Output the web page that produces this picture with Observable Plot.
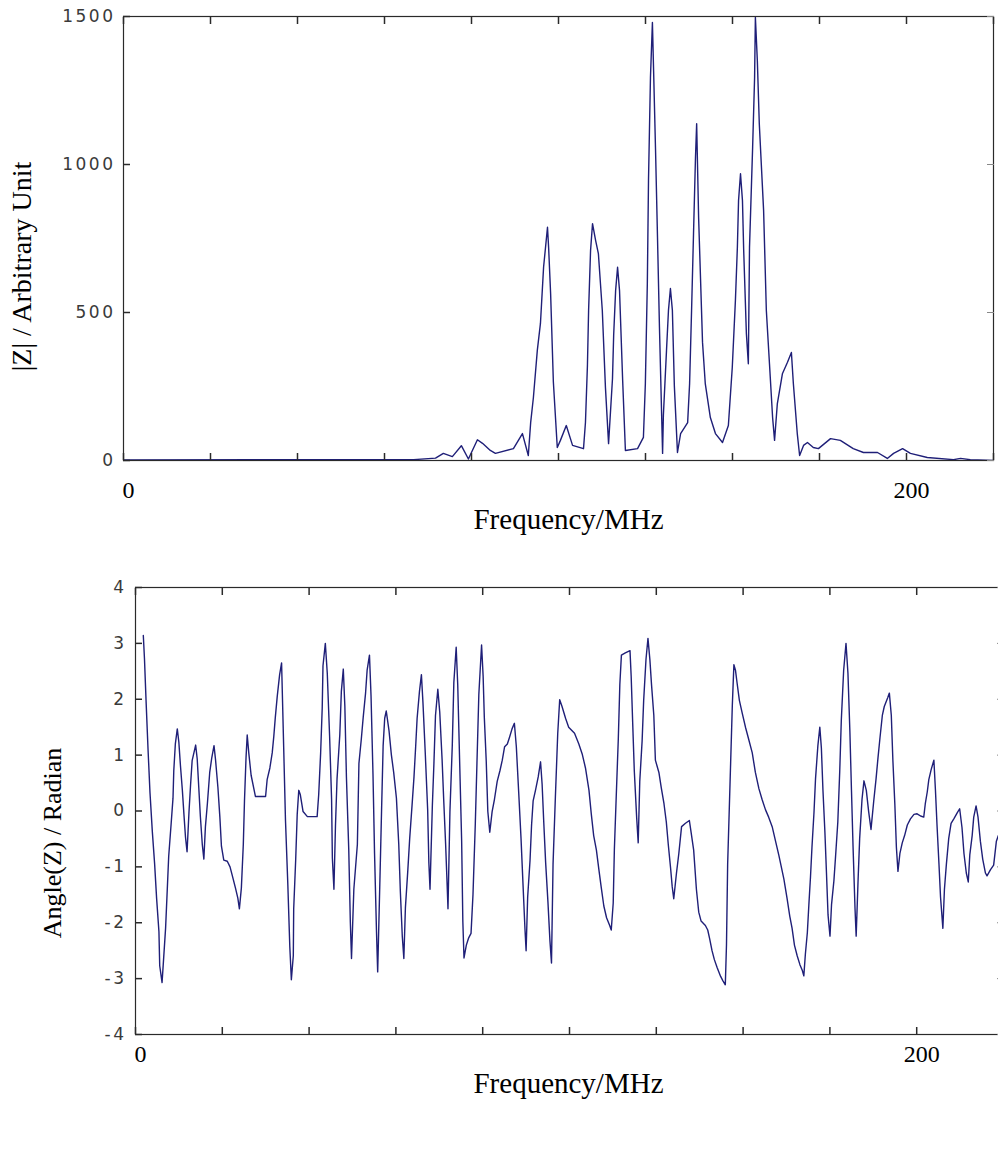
<!DOCTYPE html>
<html>
<head>
<meta charset="utf-8">
<script src="https://cdn.jsdelivr.net/npm/d3@7"></script>
<script src="https://cdn.jsdelivr.net/npm/@observablehq/plot@0.6"></script>
<style>
html, body { margin: 0; padding: 0; background: #fff; }
#wrap { width: 998px; height: 1149px; overflow: hidden; position: relative; background: #fff; }
#wrap svg { max-width: none !important; display: block; }
g[aria-label="y-axis tick label"] text { letter-spacing: 2.5px; }
</style>
</head>
<body>
<div id="wrap"></div>
<script>
// ---------- data ----------
const freqMag = [0,74.1,79.7,81.7,84.0,86.3,88.1,90.4,91.7,93.7,
95.0,99.6,101.9,103.4,104.0,104.7,105.7,106.5,107.3,108.3,
108.6,109.1,109.8,110.8,111.6,113.1,114.7,117.5,118.0,118.5,
118.8,119.3,119.8,120.6,121.3,122.3,123.1,123.9,124.9,125.2,
125.7,126.2,126.7,127.5,128.2,131.3,132.8,133.3,133.8,134.1,
134.6,135.1,135.4,135.9,136.4,136.9,137.7,137.9,138.7,139.2,
139.7,140.2,140.7,141.5,142.3,144.1,144.6,145.1,145.6,146.1,
146.4,146.9,147.9,148.6,149.9,151.2,153.0,154.5,155.5,156.3,
156.8,157.1,157.6,158.1,158.4,159.1,159.6,159.9,160.7,161.2,
161.4,161.9,162.4,163.5,164.2,165.0,165.8,166.3,167.0,168.3,
169.6,170.6,171.1,172.1,172.7,173.7,174.7,176.2,177.5,180.6,
183.1,186.4,189.0,192.6,195.1,196.7,199.0,201.0,205.3,212.0,
213.8,216.3,222.2];
const magnitude = [2,3,8,24,13,50,5,70,58,34,
24,40,91,17,128,213,372,463,653,788,
716,563,265,44,68,118,51,40,129,321,
507,709,800,743,699,507,247,57,276,422,
574,653,574,270,34,40,78,260,597,946,
1294,1480,1318,1047,753,449,24,152,372,507,
581,507,253,27,91,128,260,507,767,1024,
1138,821,399,260,145,91,61,118,315,541,
720,878,969,878,716,429,327,720,1059,1294,
1497,1351,1138,845,507,327,145,68,191,293,
332,365,260,91,17,51,61,44,40,74,
68,40,27,27,7,24,40,24,10,3,
7,3,0];

const freqPhase = [
2.0,2.3,2.7,3.2,3.7,4.3,4.9,5.4,6.0,6.2,
6.8,7.1,7.7,8.1,8.5,9.1,9.6,9.8,10.2,10.7,
11.1,11.5,12.0,12.4,12.8,13.2,13.7,14.1,14.5,15.4,
15.8,16.2,16.6,17.1,17.5,17.9,18.4,19.0,19.5,20.1,
20.5,21.1,21.6,22.0,22.6,23.5,24.2,24.8,25.6,26.2,
26.6,27.1,27.6,27.9,28.3,28.6,29.0,29.6,30.7,33.3,
33.7,34.4,35.0,35.4,35.8,36.3,36.9,37.4,37.6,38.0,
38.4,39.0,39.5,39.9,40.4,40.5,41.0,41.4,41.8,42.2,
42.9,44.0,46.5,46.9,47.4,47.8,48.0,48.6,49.1,49.7,
50.2,50.4,50.8,51.2,51.6,52.3,52.7,53.2,53.6,54.0,
54.6,55.0,55.3,
55.9,56.8,57.2,57.8,58.3,58.9,59.3,59.9,60.3,60.8,
61.2,61.7,62.0,62.6,63.0,63.4,63.8,64.2,64.9,65.5,
66.1,66.8,67.4,67.8,68.3,68.7,69.1,69.7,70.2,70.8,
71.3,71.7,72.1,72.7,73.2,73.6,74.2,74.8,75.1,75.4,
76.0,76.4,76.8,77.4,77.9,78.5,78.9,79.4,79.8,80.0,
80.5,81.1,81.5,82.1,82.5,83.0,83.5,83.8,84.1,84.7,
85.3,85.9,86.4,87.0,87.5,87.9,88.6,89.0,89.3,89.8,
90.2,90.7,91.3,91.9,92.6,93.3,93.9,94.5,95.2,95.8,
96.4,97.0,97.5,98.1,98.7,99.2,99.7,100.0,100.4,101.0,
101.4,101.8,102.4,103.1,103.7,104.1,104.5,105.0,105.6,106.1,
106.5,106.9,107.5,108.1,108.6,109.2,110.1,110.9,
112.4,113.5,114.4,115.2,116.1,116.7,117.3,118.0,118.6,119.2,
119.9,120.6,121.4,121.8,122.3,122.6,123.1,123.6,124.0,124.4,
125.4,126.6,126.9,127.3,127.7,128.3,128.7,129.1,129.7,130.1,
130.7,131.2,131.7,132.1,132.7,133.1,134.0,134.6,135.3,135.9,
136.4,137.0,137.4,137.8,138.5,139.1,139.8,140.8,141.8,142.3,
142.9,143.6,144.2,144.8,145.9,146.5,147.0,147.6,148.2,148.9,
149.8,150.4,151.0,151.3,151.6,152.2,152.8,153.2,153.6,154.0,
154.6,155.3,156.2,157.0,157.9,158.7,159.6,160.4,161.3,162.1,
163.0,163.8,164.7,
166.0,166.8,167.5,168.1,168.7,169.4,170.1,170.7,171.1,171.5,
172.0,172.4,172.8,173.2,173.7,174.1,174.7,175.2,175.6,176.0,
176.5,176.9,177.3,177.8,178.2,178.8,179.2,179.8,180.3,180.7,
181.3,181.9,182.4,182.9,183.3,183.7,184.2,184.5,185.0,185.4,
186.0,186.5,187.1,187.7,188.3,189.0,189.6,190.1,190.6,191.2,
191.7,192.6,193.0,193.5,193.9,194.4,194.8,195.2,195.7,196.3,
196.9,197.6,198.4,199.3,200.1,201.0,201.8,202.2,202.7,203.1,
203.7,204.4,204.8,205.2,205.7,206.1,206.7,207.1,207.6,208.2,
208.8,209.5,210.4,211.0,211.6,212.1,212.7,213.2,213.6,214.2,
214.6,215.2,215.7,216.3,216.9,217.6,218.0,218.9,219.7,220.4,
220.9];
const phase = [
3.14,2.72,1.98,1.12,0.34,-0.36,-0.95,-1.56,-2.16,-2.77,
-3.07,-2.75,-2.10,-1.46,-0.81,-0.25,0.23,0.72,1.20,1.47,
1.23,0.82,0.37,-0.06,-0.47,-0.73,-0.01,0.47,0.90,1.18,
0.93,0.42,-0.09,-0.60,-0.86,-0.28,0.13,0.69,0.94,1.17,
0.91,0.42,-0.11,-0.63,-0.88,-0.90,-1.00,-1.16,-1.38,-1.56,
-1.75,-1.38,-0.60,0.18,0.96,1.36,1.04,0.64,0.26,0.26,
0.56,0.77,1.04,1.33,1.68,2.06,2.44,2.65,2.09,0.96,
-0.17,-1.32,-2.42,-3.02,-2.59,-1.75,-0.89,-0.06,0.37,0.29,
-0.01,-0.10,-0.10,0.29,1.04,1.84,2.60,3.00,2.46,1.33,
0.21,-0.84,-1.40,-0.25,0.58,1.36,2.14,2.54,1.87,0.61,
-0.70,-1.99,-2.64,
-1.40,-0.60,0.85,1.28,1.68,2.11,2.52,2.79,2.06,0.66,
-0.76,-2.16,-2.88,-1.16,0.02,1.17,1.66,1.79,1.44,1.01,
0.69,0.23,-0.60,-1.43,-2.24,-2.64,-1.73,-1.08,-0.49,0.10,
0.61,1.12,1.66,2.14,2.44,1.93,1.01,0.02,-0.92,-1.40,
0.10,0.85,1.71,2.18,1.76,0.91,0.21,-0.60,-1.35,-1.75,
-0.01,1.17,2.30,2.93,2.25,0.85,-0.54,-1.97,-2.63,-2.40,
-2.27,-2.19,-1.50,-0.22,1.07,2.09,2.97,2.41,1.68,0.88,
-0.01,-0.38,-0.01,0.21,0.53,0.72,0.91,1.15,1.20,1.33,
1.47,1.57,1.15,0.34,-0.49,-1.30,-2.10,-2.50,-1.54,-0.89,
-0.25,0.18,0.37,0.61,0.88,0.48,-0.17,-0.92,-1.64,-2.32,
-2.72,-0.95,0.26,1.39,1.99,1.87,1.66,1.50,
1.39,1.20,1.01,0.77,0.37,-0.06,-0.44,-0.70,-1.03,-1.35,
-1.70,-1.91,-2.05,-2.13,-1.65,-0.68,0.31,1.28,2.27,2.79,
2.83,2.87,2.41,1.55,0.72,-0.11,-0.57,0.53,1.25,1.98,
2.72,3.09,2.70,2.27,1.71,0.91,0.69,0.42,0.13,-0.20,
-0.60,-1.03,-1.35,-1.57,-1.11,-0.76,-0.28,-0.22,-0.17,-0.41,
-0.70,-1.40,-1.81,-1.97,-2.05,-2.13,-2.29,-2.50,-2.66,-2.80,
-2.96,-3.04,-3.11,-2.40,-0.95,0.47,1.90,2.62,2.52,2.30,
1.98,1.76,1.49,1.28,1.04,0.69,0.40,0.21,0.02,-0.11,
-0.28,-0.52,-0.79,
-1.22,-1.56,-1.88,-2.10,-2.40,-2.59,-2.75,-2.85,-2.95,-2.56,
-2.18,-1.67,-1.19,-0.63,-0.03,0.58,1.17,1.50,1.12,0.37,
-0.38,-1.11,-1.86,-2.24,-1.67,-1.25,-0.84,-0.20,0.72,1.63,
2.52,3.00,2.46,1.41,0.37,-0.63,-1.73,-2.24,-1.22,-0.49,
0.21,0.54,0.37,-0.01,-0.33,0.18,0.58,0.96,1.31,1.71,
1.87,2.03,2.11,1.71,0.91,0.13,-0.65,-1.08,-0.76,-0.57,
-0.44,-0.25,-0.14,-0.06,-0.05,-0.09,-0.11,0.13,0.34,0.56,
0.74,0.91,0.37,-0.25,-0.95,-1.54,-2.10,-1.40,-0.95,-0.49,
-0.22,-0.14,-0.03,0.04,-0.30,-0.76,-1.11,-1.27,-0.78,-0.44,
-0.11,0.09,-0.11,-0.54,-0.86,-1.11,-1.16,-1.05,-0.97,-0.54,
-0.44];

const xMax = 2000 / 9;                        // axis spans 10 tick intervals, "200" on the 9th
const xTicks = d3.range(0, 11).map(i => i * 200 / 9);
const xTickLabels = [0, 200];
const magTicks = [0, 500, 1000, 1500];
const phaseTicks = [-4, -3, -2, -1, 0, 1, 2, 3, 4];
const magTitle = "|Z| / Arbitrary Unit";
const phaseTitle = "Angle(Z) / Radian";
const xTitle = "Frequency/MHz";

// ---------- style ----------
const lineColor = "#1f1f78";
const frameColor = "#2a2a2a";
const serif = "'Liberation Serif', 'Times New Roman', serif";
const sans = "'DejaVu Sans', sans-serif";

const magData = freqMag.map((f, i) => ({f, v: magnitude[i]}));
const phaseData = freqPhase.map((f, i) => ({f, v: phase[i]}));

function panel({data, width, height, ml, mr, mt, mb, yDomain, yTicks, yTitle, yTitleDx, yTitleDy, yTitleSize, yPad, xLabPad, xTitleDx, xTitleDy}) {
  return Plot.plot({
    width, height,
    marginLeft: ml, marginRight: mr, marginTop: mt, marginBottom: mb,
    x: {domain: [0, xMax], label: null},
    y: {domain: yDomain, label: null},
    style: {background: "white", maxWidth: "none", overflow: "visible"},
    marks: [
      Plot.line(data, {x: "f", y: "v", stroke: lineColor, strokeWidth: 1.4, clip: true}),
      Plot.frame({stroke: frameColor, strokeWidth: 1.2}),
      // inward ticks on all four sides
      Plot.axisX({anchor: "bottom", ticks: xTicks, tickSize: -7, tickFormat: () => "", stroke: frameColor, strokeWidth: 1.5, label: null}),
      Plot.axisX({anchor: "top", ticks: xTicks, tickSize: -7, tickFormat: () => "", stroke: frameColor, strokeWidth: 1.5, label: null}),
      Plot.axisY({anchor: "left", ticks: yTicks, tickSize: -7, tickFormat: () => "", stroke: frameColor, strokeWidth: 1.5, label: null}),
      Plot.axisY({anchor: "right", ticks: yTicks, tickSize: -7, tickFormat: () => "", stroke: "#888", label: null}),
      // tick labels
      Plot.axisY({anchor: "left", ticks: yTicks, tickSize: 0, tickPadding: yPad, tickFormat: d => String(d),
                  fontSize: 17, fontFamily: sans, fill: "#3a3a3a", label: null}),
      Plot.axisX({anchor: "bottom", ticks: xTickLabels, tickSize: 0, tickPadding: xLabPad, tickFormat: d => String(d),
                  fontSize: 24, fontFamily: serif, fill: "#000", dx: 5, label: null}),
      // axis titles
      Plot.text([xTitle], {text: d => d, frameAnchor: "bottom", textAnchor: "middle", dx: xTitleDx, dy: xTitleDy,
                  fontSize: 29, fontFamily: serif, fill: "#000"}),
      Plot.text([yTitle], {text: d => d, frameAnchor: "left", textAnchor: "middle", rotate: -90, dx: yTitleDx, dy: yTitleDy,
                  fontSize: yTitleSize, fontFamily: serif, fill: "#000"})
    ]
  });
}

const wrap = document.getElementById("wrap");
wrap.appendChild(panel({
  data: magData, width: 998, height: 540, ml: 123, mr: 5, mt: 16, mb: 80,
  yDomain: [0, 1500], yTicks: magTicks, yTitle: magTitle, yTitleDx: -101, yTitleDy: 28, yTitleSize: 28,
  yPad: 8, xLabPad: 20, xTitleDx: 10, xTitleDy: 68
}));
wrap.appendChild(panel({
  data: phaseData, width: 1003, height: 609, ml: 135, mr: 0, mt: 47, mb: 115,
  yDomain: [-4, 4], yTicks: phaseTicks, yTitle: phaseTitle, yTitleDx: -83, yTitleDy: 32, yTitleSize: 26,
  yPad: 9, xLabPad: 10, xTitleDx: -1, xTitleDy: 58
}));
</script>
</body>
</html>
